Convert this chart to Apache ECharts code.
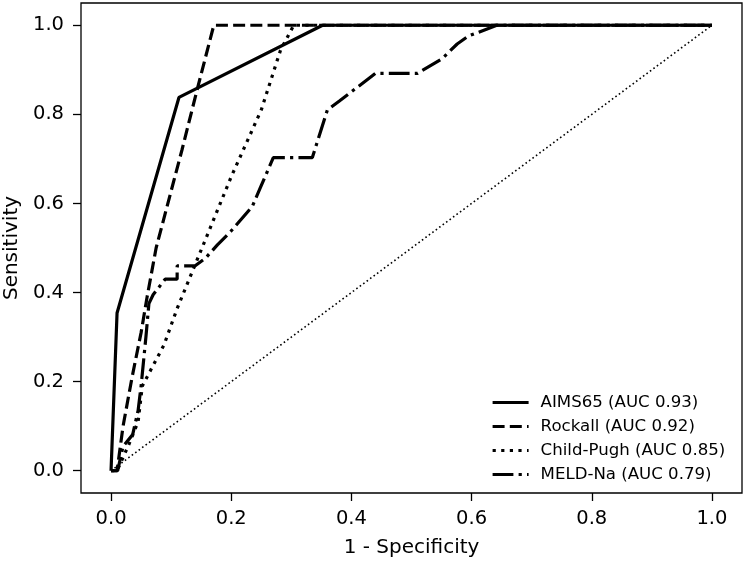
<!DOCTYPE html>
<html>
<head>
<meta charset="utf-8">
<script src="https://cdn.jsdelivr.net/npm/echarts@6/dist/echarts.min.js"></script>
<style>
  html, body { margin: 0; padding: 0; background: #fff; }
  #chart { width: 750px; height: 564px; }
</style>
</head>
<body>
<div id="chart"></div>
<script>
// ROC curves, values
const aimsX = [0, 0.01, 0.113, 0.352, 1];
const aimsY = [0, 0.354, 0.838, 1, 1];

const rockX = [0, 0.01, 0.02, 0.035, 0.05, 0.06, 0.075, 0.118, 0.143, 0.171, 1];
const rockY = [0, 0, 0.1, 0.21, 0.31, 0.39, 0.5, 0.72, 0.854, 1, 1];

const childX = [0, 0.01, 0.03, 0.045, 0.052, 0.066, 0.088, 0.11, 0.13, 0.2, 0.25, 0.282, 0.304, 1];
const childY = [0, 0, 0.06, 0.11, 0.19, 0.226, 0.282, 0.364, 0.43, 0.66, 0.81, 0.944, 1, 1];

const meldX = [0, 0.011, 0.02, 0.036, 0.045, 0.05, 0.058, 0.063, 0.07, 0.09, 0.11, 0.11, 0.14, 0.157, 0.177, 0.199, 0.235, 0.249, 0.27, 0.335, 0.36, 0.38, 0.44, 0.51, 0.551, 0.576, 0.595, 0.642, 1];
const meldY = [0, 0, 0.055, 0.081, 0.135, 0.19, 0.3, 0.375, 0.395, 0.43, 0.43, 0.46, 0.46, 0.477, 0.507, 0.537, 0.593, 0.637, 0.703, 0.703, 0.81, 0.83, 0.892, 0.892, 0.925, 0.958, 0.976, 1, 1];

const diagX = [0, 1];
const diagY = [0, 1];

const names = ['AIMS65 (AUC 0.93)', 'Rockall (AUC 0.92)', 'Child-Pugh (AUC 0.85)', 'MELD-Na (AUC 0.79)'];
const tickVals = [0, 0.2, 0.4, 0.6, 0.8, 1.0];

const font = 'DejaVu Sans';

function pairs(xs, ys) {
  return xs.map((x, i) => [x, ys[i]]);
}

function curve(name, xs, ys, dash, width) {
  return {
    name: name,
    type: 'line',
    data: pairs(xs, ys),
    symbol: 'none',
    smooth: false,
    silent: true,
    lineStyle: { color: '#000', width: width, type: dash, cap: 'butt' },
    itemStyle: { color: '#000' }
  };
}

const chart = echarts.init(document.getElementById('chart'), null, { renderer: 'canvas' });

chart.setOption({
  animation: false,
  backgroundColor: '#fff',
  grid: {
    left: 81, right: 8, top: 3, bottom: 71,
    containLabel: false, outerBoundsMode: 'none',
    show: true, borderColor: '#000', borderWidth: 1.3, backgroundColor: 'transparent'
  },
  legend: {
    data: names,
    orient: 'vertical',
    left: 486, top: 389,
    itemWidth: 36, itemHeight: 16, itemGap: 7,
    itemStyle: { opacity: 0, borderWidth: 0 },
    lineStyle: { width: 3.2 },
    textStyle: { fontFamily: font, fontSize: 16.6, color: '#000', padding: [0, 0, 0, 7] }
  },
  xAxis: {
    type: 'value', min: -0.05, max: 1.05,
    name: '1 - Specificity', nameLocation: 'middle', nameGap: 45,
    nameTextStyle: { fontFamily: font, fontSize: 20, color: '#000' },
    axisLine: { show: false, onZero: false },
    splitLine: { show: false },
    axisTick: { show: true, customValues: tickVals, length: 8, lineStyle: { color: '#000', width: 1.3 } },
    axisLabel: {
      customValues: tickVals, margin: 16,
      fontFamily: font, fontSize: 19.5, color: '#000',
      formatter: v => v.toFixed(1)
    }
  },
  yAxis: {
    type: 'value', min: -0.05, max: 1.05,
    name: 'Sensitivity', nameLocation: 'middle', nameGap: 54,
    nameTextStyle: { fontFamily: font, fontSize: 20, color: '#000' },
    axisLine: { show: false, onZero: false },
    splitLine: { show: false },
    axisTick: { show: true, customValues: tickVals, length: 8, lineStyle: { color: '#000', width: 1.3 } },
    axisLabel: {
      customValues: tickVals, margin: 17,
      fontFamily: font, fontSize: 19.5, color: '#000',
      formatter: v => v.toFixed(1)
    }
  },
  series: [
    curve('diag', diagX, diagY, [1.6, 2.7], 1.6),
    curve(names[0], aimsX, aimsY, 'solid', 3.2),
    curve(names[1], rockX, rockY, [12, 5.2], 3.2),
    curve(names[2], childX, childY, [3.2, 5.4], 3.2),
    curve(names[3], meldX, meldY, [20.8, 5.2, 3.2, 5.2], 3.2)
  ]
});
</script>
</body>
</html>
